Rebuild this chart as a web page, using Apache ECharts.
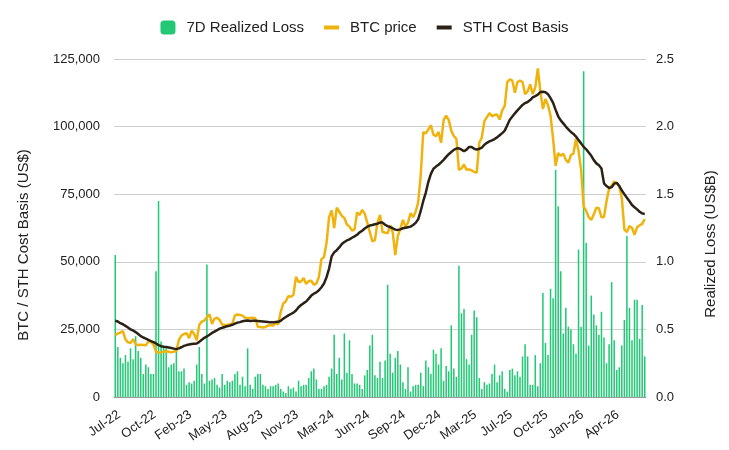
<!DOCTYPE html>
<html lang="en">
<head>
    <meta charset="UTF-8">
    <title>BTC price, STH cost basis and realized loss</title>
    <script src="https://cdn.jsdelivr.net/npm/echarts@6/dist/echarts.min.js"></script>
    <style>
        html, body { margin: 0; padding: 0; background: #fff; }
        #chart { width: 729px; height: 450px; }
    </style>
</head>
<body>
<div id="chart"></div>

<script>
    // weekly points, first week starts 2022-07-25
    let startDate = '2022-07-25';
    let labelEvery = 14; // one axis label every 14 weeks

    // 7D realized loss, US$ billions (right axis)
    let realizedLoss = [
        1.05,0.37,0.29,0.25,0.31,0.26,0.36,0.28,0.45,0.34,
        0.29,0.17,0.24,0.22,0.17,0.17,0.93,1.45,0.41,0.38,
        0.36,0.22,0.24,0.25,0.36,0.19,0.19,0.21,0.09,0.11,
        0.10,0.12,0.24,0.37,0.17,0.10,0.98,0.12,0.13,0.14,
        0.09,0.07,0.17,0.09,0.12,0.11,0.12,0.17,0.19,0.09,
        0.15,0.08,0.36,
        0.09,0.06,0.15,0.17,0.17,0.09,0.08,0.06,0.08,0.08,
        0.09,0.10,0.06,0.04,0.03,0.08,0.06,0.07,0.04,0.12,
        0.08,0.09,0.09,0.14,0.19,0.21,0.13,0.06,0.06,0.08,
        0.09,0.15,0.21,0.46,0.17,0.29,0.13,0.47,0.18,0.42,
        0.17,0.10,0.10,0.09,0.06,0.16,0.20,0.38,0.46,0.16,
        0.14,0.26,0.14,
        0.27,0.83,0.32,0.18,0.29,0.34,0.24,0.11,0.06,0.22,
        0.04,0.08,0.09,0.09,0.18,0.08,0.27,0.22,0.17,0.35,
        0.32,0.24,0.36,0.12,0.23,0.19,0.53,0.21,0.15,0.97,
        0.62,0.65,0.28,0.24,0.46,0.64,0.59,0.14,0.06,0.11,
        0.09,0.10,0.17,0.24,0.11,0.16,0.19,0.06,0.04,0.20,
        0.21,0.16,0.19,
        0.15,0.30,0.39,0.30,0.09,0.09,0.31,0.08,0.25,0.77,
        0.40,0.31,0.80,0.73,1.68,1.41,0.93,0.47,0.66,0.52,
        0.50,0.39,0.32,1.09,0.52,2.41,1.14,0.38,0.75,0.61,
        0.53,0.46,0.63,0.44,0.25,0.39,0.85,0.42,0.20,0.22,
        0.38,0.57,1.19,0.66,0.42,0.72,0.72,0.43,0.68,0.30
    ];

    // BTC price, US$ (left axis)
    let btcPrice = [
        22900,23500,23800,24400,21300,20200,20000,21400,19500,19200,
        19300,19200,19100,20600,20400,19400,16800,16400,16500,16800,
        16900,16700,16500,16800,17000,21200,22700,23300,23600,21800,
        24500,23300,21000,26700,27900,28300,29500,30600,27000,29000,
        29300,28500,26800,26600,26700,26900,27100,30200,30500,30300,
        30100,29300,29200,
        29200,29300,29100,26000,25900,25700,25900,26400,26600,26400,
        27500,26800,31500,34600,35400,37300,37100,37800,44500,42500,
        42700,44000,41800,42900,43000,41500,42000,44400,51000,51800,
        57000,66500,69000,62500,70000,68500,67000,66200,63800,63000,
        61500,62000,68300,67300,69200,67800,64500,61000,57500,58000,
        64500,67300,61000,
        60800,60500,63500,61000,52500,59500,62300,65500,63000,64500,
        68000,66500,68500,72000,82000,98000,97500,99000,100500,97000,
        96500,98000,94000,102500,104000,102500,98500,96500,95500,84000,
        84500,86000,84000,84200,83800,83200,83000,94000,96000,102000,
        103500,105000,103800,104300,104500,102600,106000,107700,116500,117500,
        117000,112500,116500,
        117000,116500,112000,113000,115600,112000,114500,121500,113000,106500,
        110200,108000,104000,95500,85500,90200,89200,90000,87700,86700,
        89500,90000,95500,91000,84000,70500,68800,66500,65500,67600,
        70000,69800,66500,66600,72500,77000,78200,79700,79000,78000,
        73600,62000,61000,63200,62600,60000,62800,63500,64000,65800
    ];

    // short-term holder cost basis, US$ (left axis)
    let sthCostBasis = [
        28200,27900,27300,26900,26300,25700,25000,24600,24000,23300,
        22500,22000,21600,21100,20700,20300,19800,19200,18800,18600,
        18500,18300,18100,17900,17700,18000,18400,18900,19200,19400,
        19600,19700,19800,20400,21200,21900,22400,23000,23700,24200,
        24700,25300,25600,25900,26200,26400,26700,27100,27500,27700,
        28000,28200,28300,
        28100,28200,28200,28100,28000,27900,27800,27700,27600,27600,
        27700,27800,28200,29000,29600,30200,30700,31200,32000,33200,
        34000,34700,35300,36400,37500,38200,38700,39500,40600,42000,
        44300,47500,52000,53500,54300,55300,56600,57300,57900,58300,
        58900,59400,60000,60900,61500,62300,63000,63400,63600,63900,
        64100,64500,64500,
        63700,63200,62800,62400,61900,61800,62000,62400,62600,62800,
        63000,63600,64400,65700,68800,72500,75600,79600,82500,84400,
        85200,85900,86800,87700,88800,89800,90600,91400,91900,92000,
        91500,90900,91500,92500,92500,91800,91500,91800,92200,93300,
        94000,94500,94900,95400,96000,96800,97600,98500,100500,102500,
        103700,104900,106000,
        107000,108000,108700,109100,109800,110800,111300,111800,112800,112900,
        112700,112000,110500,108800,106200,103800,102300,101200,100000,99000,
        98000,97300,96300,95000,93800,92500,91600,90400,89200,87600,
        86400,85700,84500,79000,78000,77300,77600,78900,79200,78000,
        76400,75000,73700,72400,71000,70200,69400,68500,67900,67700
    ];

    let monthNames = ['Jan','Feb','Mar','Apr','May','Jun','Jul','Aug','Sep','Oct','Nov','Dec'];

    // category labels like "Jul-22", one per week
    let weeks = [];
    let d0 = new Date(startDate + 'T00:00:00Z');
    for (let i = 0; i < realizedLoss.length; i++) {
        let d = new Date(d0.getTime() + i * 7 * 86400000);
        weeks.push(monthNames[d.getUTCMonth()] + '-' + String(d.getUTCFullYear()).slice(2));
    }

    let font = 'Liberation Sans, Arial, sans-serif';
    let lineIcon = 'path://M0,0L0.01,0ZM0,5L15,5L15,9L0,9ZM0,14L0.01,14Z';

    let option = {
        animation: false,
        textStyle: { fontFamily: font },
        legend: {
            top: 15,
            left: 'center',
            itemWidth: 15,
            itemHeight: 14,
            itemGap: 20,
            textStyle: { fontSize: 15, color: '#222', padding: [0, 0, 0, 6] },
            data: [
                { name: '7D Realized Loss', icon: 'roundRect' },
                { name: 'BTC price', icon: lineIcon },
                { name: 'STH Cost Basis', icon: lineIcon }
            ]
        },
        grid: { left: 114, right: 83, top: 59, bottom: 53 },
        xAxis: {
            type: 'category',
            data: weeks,
            boundaryGap: true,
            axisLine: { lineStyle: { color: '#9a9a9a' } },
            axisTick: { show: false },
            axisLabel: {
                interval: labelEvery - 1,
                rotate: 35,
                fontSize: 13,
                color: '#222',
                margin: 11,
                verticalAlign: 'top'
            }
        },
        yAxis: [
            {
                type: 'value',
                min: 0,
                max: 125000,
                interval: 25000,
                name: 'BTC / STH Cost Basis (US$)',
                nameLocation: 'middle',
                nameRotate: 90,
                nameGap: 83,
                nameTextStyle: { fontSize: 15, color: '#222', padding: [0, 34, 0, 0] },
                axisLine: { show: false },
                axisTick: { show: false },
                axisLabel: {
                    fontSize: 13,
                    color: '#222',
                    margin: 14,
                    formatter: v => v.toLocaleString('en-US')
                },
                splitLine: { lineStyle: { color: '#cfcfcf' } }
            },
            {
                type: 'value',
                min: 0,
                max: 2.5,
                interval: 0.5,
                name: 'Realized Loss (US$B)',
                nameLocation: 'middle',
                nameRotate: 90,
                nameGap: 57,
                nameTextStyle: { fontSize: 15, color: '#222', padding: [0, 32, 0, 0] },
                axisLine: { show: false },
                axisTick: { show: false },
                axisLabel: {
                    fontSize: 13,
                    color: '#222',
                    margin: 10,
                    formatter: v => v.toFixed(1)
                },
                splitLine: { show: false }
            }
        ],
        series: [
            {
                name: '7D Realized Loss',
                type: 'bar',
                yAxisIndex: 1,
                data: realizedLoss,
                barCategoryGap: '40%',
                itemStyle: { color: '#22C875' }
            },
            {
                name: 'BTC price',
                type: 'line',
                yAxisIndex: 0,
                data: btcPrice,
                symbol: 'none',
                itemStyle: { color: '#F0B30E' },
                lineStyle: { color: '#F0B30E', width: 2.5 }
            },
            {
                name: 'STH Cost Basis',
                type: 'line',
                yAxisIndex: 0,
                data: sthCostBasis,
                symbol: 'none',
                itemStyle: { color: '#2B2215' },
                lineStyle: { color: '#2B2215', width: 2.5 }
            }
        ]
    };

    let myChart = echarts.init(document.getElementById('chart'));
    myChart.setOption(option);
</script>
</body>
</html>
